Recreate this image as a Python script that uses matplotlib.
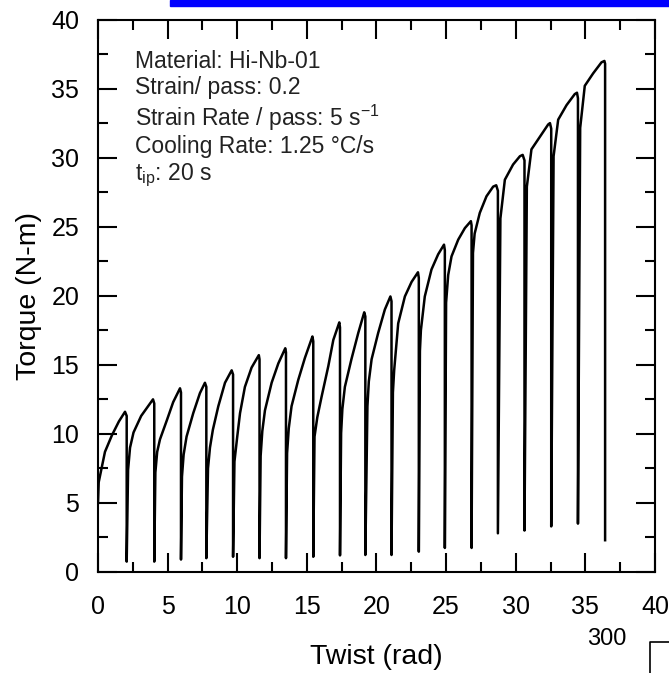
import matplotlib
matplotlib.use('Agg')
import matplotlib.pyplot as plt
from matplotlib.patches import Rectangle
from matplotlib.lines import Line2D

plt.rcParams['font.family'] = ['Liberation Sans', 'DejaVu Sans']
plt.rcParams['mathtext.fontset'] = 'custom'
plt.rcParams['mathtext.rm'] = 'Liberation Sans'

# twist / torque points of each pass
pass_twist = [
    [0.0, 0.05, 0.5, 1.0, 1.5, 1.94, 2.06],
    [2.16, 2.3, 2.55, 3.1, 3.6, 3.95, 4.04],
    [4.12, 4.25, 4.45, 4.95, 5.4, 5.89, 5.96],
    [6.03, 6.15, 6.36, 6.84, 7.32, 7.68, 7.78],
    [7.9, 8.04, 8.25, 8.64, 9.12, 9.6, 9.7],
    [9.8, 10.0, 10.2, 10.55, 11.03, 11.55, 11.6],
    [11.68, 11.8, 11.99, 12.47, 12.95, 13.45, 13.5],
    [13.58, 13.7, 13.9, 14.38, 14.86, 15.4, 15.46],
    [15.55, 15.75, 16.06, 16.54, 16.9, 17.33, 17.38],
    [17.46, 17.55, 17.73, 18.2, 18.69, 19.12, 19.2],
    [19.35, 19.45, 19.65, 20.12, 20.6, 21.0, 21.08],
    [21.18, 21.27, 21.56, 22.04, 22.52, 22.98, 23.04],
    [23.12, 23.19, 23.47, 23.95, 24.43, 24.85, 24.91],
    [25.0, 25.15, 25.39, 25.87, 26.35, 26.78, 26.83],
    [26.93, 27.05, 27.42, 27.9, 28.38, 28.6, 28.72],
    [28.9, 29.22, 29.81, 30.3, 30.5, 30.63],
    [30.8, 31.13, 31.73, 32.33, 32.46, 32.55],
    [32.72, 33.05, 33.65, 34.24, 34.4, 34.47],
    [34.63, 34.96, 35.56, 36.16, 36.37, 36.42],
]
pass_torque = [
    [5.0, 6.5, 8.7, 9.9, 10.9, 11.6, 11.3],
    [7.4, 9.0, 10.1, 11.3, 12.0, 12.5, 12.2],
    [7.2, 8.7, 9.6, 11.0, 12.3, 13.3, 13.0],
    [6.9, 8.5, 9.8, 11.5, 12.95, 13.7, 13.4],
    [7.5, 9.0, 10.3, 12.0, 13.7, 14.6, 14.3],
    [8.0, 9.8, 11.5, 13.4, 14.8, 15.7, 15.4],
    [8.4, 10.2, 11.7, 13.7, 15.1, 16.2, 15.9],
    [8.6, 10.4, 12.0, 13.9, 15.5, 17.05, 16.7],
    [9.8, 11.2, 12.7, 14.9, 16.8, 18.07, 17.7],
    [10.05, 11.8, 13.4, 15.4, 17.3, 18.8, 18.5],
    [12.0, 13.8, 15.4, 17.3, 19.0, 19.95, 19.6],
    [13.0, 14.6, 18.0, 19.95, 21.0, 21.7, 21.3],
    [16.0, 17.5, 19.95, 21.9, 23.0, 23.7, 23.3],
    [19.5, 21.5, 22.85, 24.06, 24.9, 25.4, 25.1],
    [23.1, 24.5, 26.0, 27.2, 27.9, 28.0, 27.6],
    [25.6, 28.4, 29.5, 30.1, 30.2, 29.8],
    [27.9, 30.6, 31.5, 32.4, 32.5, 32.1],
    [30.1, 32.75, 33.8, 34.6, 34.7, 34.3],
    [32.15, 35.2, 36.1, 36.9, 37.0, 36.8],
]
# torque reached at the bottom of each unloading
drop_min = [0.75, 0.75, 0.9, 1.0, 1.1, 1.0, 1.0, 1.1, 1.2, 1.23,
            1.23, 1.47, 1.74, 1.74, 2.8, 3.0, 3.3, 3.5, 2.3]

info_lines = [
    'Material: Hi-Nb-01',
    'Strain/ pass: 0.2',
    r'Strain Rate / pass: 5 s$^{\mathregular{-1}}$',
    'Cooling Rate: 1.25 \u00b0C/s',
    r't$_{\mathregular{ip}}$: 20 s',
]

twist = []
torque = []
for xs, ys, low in zip(pass_twist, pass_torque, drop_min):
    twist += xs + [xs[-1]]
    torque += ys + [low]

fig = plt.figure(figsize=(6.69, 6.73), dpi=100)
ax = fig.add_axes([0.1465, 0.1501, 0.979 - 0.1465, 0.971 - 0.1501])

ax.plot(twist, torque, color='black', linewidth=1.8)

ax.set_xlim(0, 40)
ax.set_ylim(0, 40)
ax.set_xticks(range(0, 41, 5))
ax.set_yticks(range(0, 41, 5))
ax.set_xticks([2.5 + 5 * i for i in range(8)], minor=True)
ax.set_yticks([2.5 + 5 * i for i in range(8)], minor=True)
ax.tick_params(which='both', direction='in', top=True, right=True,
               width=1.5, labelsize=18)
ax.tick_params(axis='x', which='both', pad=16.5)
ax.tick_params(axis='y', which='both', pad=13.5)
ax.tick_params(which='major', length=13.5)
ax.tick_params(which='minor', length=7)
for side in ax.spines.values():
    side.set_linewidth(1.5)

ax.set_xlabel('Twist (rad)', fontsize=20.5, va='center')
ax.set_ylabel('Torque (N-m)', fontsize=20.5, va='center')
ax.xaxis.set_label_coords(0.5, -0.1538)
ax.yaxis.set_label_coords(-0.124, 0.5)

# test conditions, one text block
ax.text(0.0664, 0.9443, '\n'.join(info_lines), transform=ax.transAxes,
        fontsize=16.5, va='top', ha='left', linespacing=1.15, color='#222222')

# pieces of the neighbouring panels that were cropped in
fig.patches.append(Rectangle((170 / 669, 1 - 6 / 673), 1, 6 / 673,
                             transform=fig.transFigure, color='#0000ff'))
fig.text(607 / 669, 1 - 639 / 673, '300', fontsize=17, ha='center', va='center')
fig.lines.append(Line2D([1.01, 650 / 669, 650 / 669],
                        [1 - 642 / 673, 1 - 642 / 673, -0.01],
                        transform=fig.transFigure, color='black', linewidth=1.2))

fig.savefig('out.png', dpi=100)
